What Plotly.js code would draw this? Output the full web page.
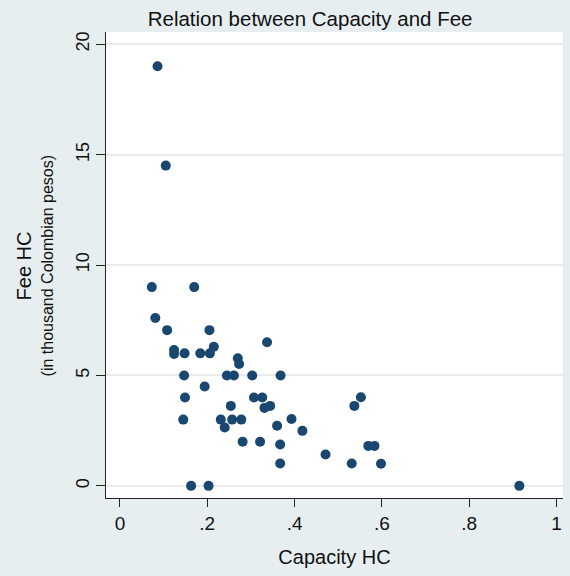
<!DOCTYPE html>
<html>
<head>
<meta charset="utf-8">
<script src="https://cdn.plot.ly/plotly-3.0.1.min.js"></script>
<style>html,body{margin:0;padding:0;background:#e7eef0;}</style>
</head>
<body>
<div id="chart" style="width:570px;height:576px;"></div>
<script>
const capacity = [0.086,0.105,0.073,0.170,0.081,0.108,0.205,0.124,0.124,0.148,0.184,0.206,0.215,0.337,0.270,0.273,0.147,0.245,0.261,0.303,0.368,0.194,0.149,0.307,0.326,0.254,0.331,0.344,0.145,0.231,0.257,0.278,0.240,0.360,0.281,0.321,0.367,0.367,0.163,0.203,0.393,0.418,0.471,0.531,0.598,0.552,0.537,0.569,0.583,0.915];
const fee = [19,14.5,9,9,7.6,7.05,7.05,6.15,5.97,6,6,6,6.3,6.5,5.78,5.52,5,5,5,5,5,4.5,4,4,4,3.62,3.53,3.62,3,3,3,3,2.64,2.72,2,2,1.87,1.01,0,0,3.03,2.49,1.42,1.01,1.0,4.01,3.62,1.81,1.81,0];
const xTickVals = [0,0.2,0.4,0.6,0.8,1];
const xTickText = ["0",".2",".4",".6",".8","1"];
const yTickVals = [0,5,10,15,20];

const trace = {
  x: capacity, y: fee, type: 'scatter', mode: 'markers',
  marker: {color: '#1a476f', size: 10},
  hoverinfo: 'x+y'
};
const layout = {
  width: 570, height: 576,
  paper_bgcolor: '#e7eef0', plot_bgcolor: '#ffffff',
  margin: {l: 106, r: 7, t: 32, b: 78},
  showlegend: false,
  font: {family: 'Liberation Sans, Arial, sans-serif', color: '#111'},
  title: {text: 'Relation between Capacity and Fee', x: 0.544, xref: 'container', xanchor: 'center', y: 0.968, yref: 'container', yanchor: 'middle', font: {size: 20.5, color: '#111'}},
  xaxis: {
    range: [-0.032, 1.015], tickvals: xTickVals, ticktext: xTickText,
    showgrid: false, zeroline: false, showline: true, linecolor: '#222', linewidth: 1,
    ticks: 'outside', ticklen: 8, tickcolor: '#222', tickfont: {size: 19},
    title: {text: 'Capacity HC', font: {size: 20}, standoff: 17}
  },
  yaxis: {
    range: [-0.55, 20.55], tickvals: yTickVals, tickangle: -90,
    showgrid: true, gridcolor: '#eaeaea', gridwidth: 1.5, zeroline: false,
    showline: true, linecolor: '#222', linewidth: 1,
    ticks: 'outside', ticklen: 9, tickcolor: '#222', tickfont: {size: 18}
  },
  annotations: [{
    text: 'Fee HC', textangle: -90,
    xref: 'paper', yref: 'paper', x: -0.1794, y: 0.497, xanchor: 'center', yanchor: 'middle',
    showarrow: false, font: {size: 20, color: '#111'}
  }, {
    text: '(in thousand Colombian pesos)', textangle: -90,
    xref: 'paper', yref: 'paper', x: -0.1291, y: 0.497, xanchor: 'center', yanchor: 'middle',
    showarrow: false, font: {size: 16, color: '#111'}
  }]
};
Plotly.newPlot('chart', [trace], layout, {displayModeBar: false});
</script>
</body>
</html>
